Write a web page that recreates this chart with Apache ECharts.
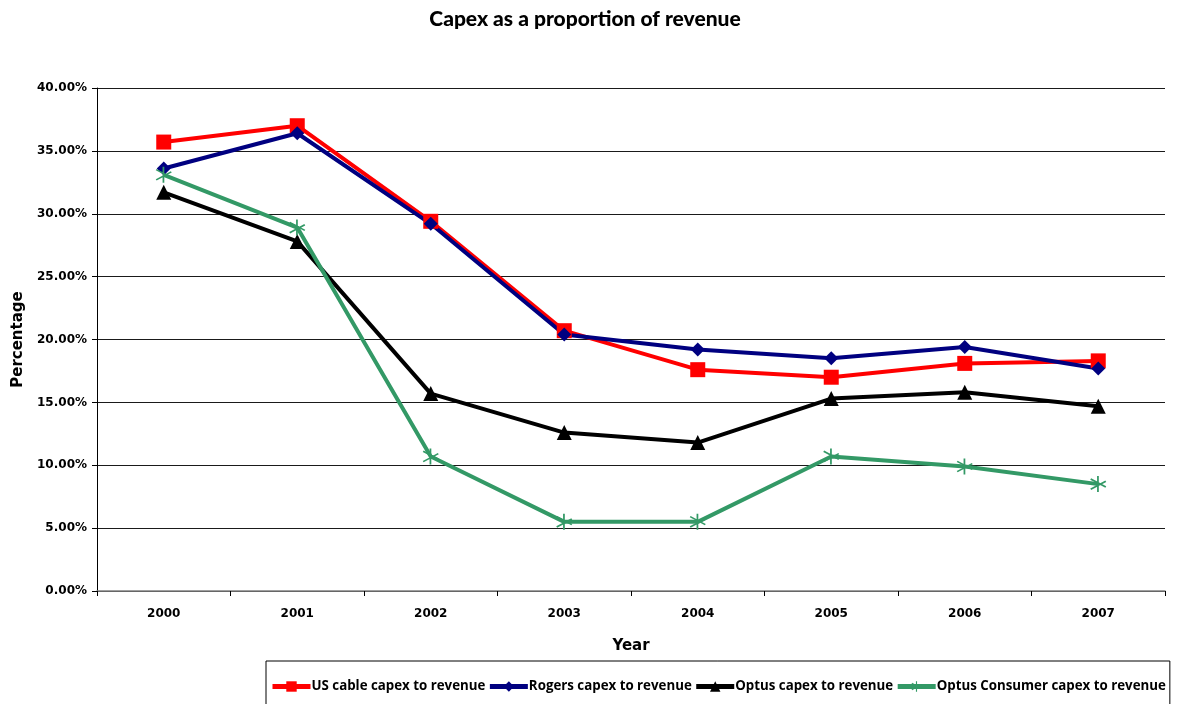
<!DOCTYPE html>
<html><head><meta charset="utf-8">
<script src="https://cdn.jsdelivr.net/npm/echarts@6/dist/echarts.min.js"></script>
<style>html,body{margin:0;padding:0;background:#fff}#c{width:1186px;height:704px}</style>
</head><body><div id="c"></div>
<script>
var years = ['2000','2001','2002','2003','2004','2005','2006','2007'];
var usCable = [35.7, 37.0, 29.4, 20.7, 17.6, 17.0, 18.1, 18.3];
var rogers = [33.6, 36.4, 29.2, 20.4, 19.2, 18.5, 19.4, 17.7];
var optus = [31.7, 27.8, 15.7, 12.6, 11.8, 15.3, 15.8, 14.7];
var optusConsumer = [33.1, 28.9, 10.7, 5.5, 5.5, 10.7, 9.9, 8.5];
var seriesNames = ['US cable capex to revenue','Rogers capex to revenue','Optus capex to revenue','Optus Consumer capex to revenue'];

var asterisk = 'path://M9,0h2v20h-2z M1.2,4.4l1-1.7l17.3,10l-1,1.7z M1.2,15.6l17.3-10l1,1.7l-17.3,10z';
var chart = echarts.init(document.getElementById('c'));
var tf = '"DejaVu Sans", Verdana, sans-serif';
function mk(name, data, color, symbol, size){
  return {name:name, type:'line', data:data, symbol:symbol, symbolSize:size,
    lineStyle:{color:color, width:4}, itemStyle:{color:color}, z: 2};
}
chart.setOption({
  animation:false,
  title:{text:'Capex as a proportion of revenue', left:580, textAlign:'center', top:4,
    textStyle:{fontFamily:'Lato, "Noto Sans", sans-serif', fontWeight:900, fontSize:21, color:'#000'}},
  grid:{left:97, right:21, top:88, bottom:113},
  legend:{left:266, top:661, width:915, orient:'horizontal', itemGap:2, itemWidth:38, itemHeight:13,
    padding:[19,4,30,4], borderColor:'#000', borderWidth:1,
    lineStyle:{width:5},
    textStyle:{fontFamily:'"Open Sans", "Noto Sans", sans-serif', fontWeight:'bold', fontSize:13.3, color:'#000', padding:[0,0,0,-4]},
    data:seriesNames},
  xAxis:{type:'category', data:years, boundaryGap:true,
    name:'Year', nameLocation:'middle', nameGap:48,
    nameTextStyle:{fontFamily:tf, fontWeight:'bold', fontSize:15, color:'#000'},
    axisLine:{lineStyle:{color:'#808080', width:1.5}},
    axisTick:{show:true, inside:false, length:5, lineStyle:{color:'#000'}},
    axisLabel:{fontFamily:tf, fontWeight:'bold', fontSize:12, color:'#000', margin:17}},
  yAxis:{type:'value', min:0, max:40, interval:5,
    name:'Percentage', nameLocation:'middle', nameGap:71, nameRotate:90,
    nameTextStyle:{fontFamily:tf, fontWeight:'bold', fontSize:15, color:'#000'},
    axisLine:{show:true, lineStyle:{color:'#000', width:1}},
    axisTick:{show:true, length:5, lineStyle:{color:'#000'}},
    splitLine:{show:true, lineStyle:{color:'#1a1a1a', width:1}},
    axisLabel:{fontFamily:tf, fontWeight:'bold', fontSize:12, color:'#000', margin:10,
      formatter:function(v){return v.toFixed(2)+'%';}}},
  series:[
    mk(seriesNames[0], usCable, '#ff0000', 'rect', 15),
    mk(seriesNames[1], rogers, '#000080', 'diamond', 14),
    mk(seriesNames[2], optus, '#000000', 'triangle', 15),
    mk(seriesNames[3], optusConsumer, '#339966', asterisk, 16)
  ]
});
</script></body></html>
